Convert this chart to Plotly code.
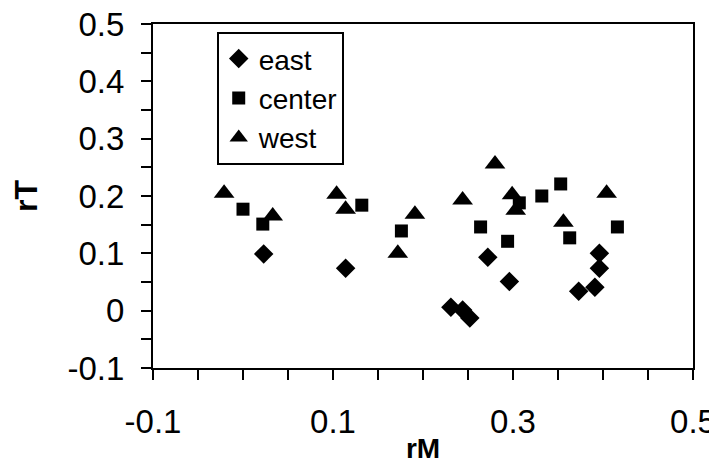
import plotly.graph_objects as go

# Data
east_rM = [0.023, 0.114, 0.272, 0.296, 0.231, 0.244, 0.252, 0.396, 0.396, 0.391, 0.373]
east_rT = [0.099, 0.074, 0.093, 0.051, 0.006, 0.001, -0.013, 0.100, 0.074, 0.041, 0.034]

center_rM = [0.000, 0.022, 0.132, 0.176, 0.264, 0.294, 0.307, 0.332, 0.353, 0.363, 0.416]
center_rT = [0.177, 0.151, 0.184, 0.139, 0.146, 0.121, 0.188, 0.200, 0.221, 0.127, 0.146]

west_rM = [-0.021, 0.033, 0.104, 0.114, 0.191, 0.172, 0.244, 0.280, 0.299, 0.303, 0.356, 0.404]
west_rT = [0.205, 0.165, 0.203, 0.177, 0.168, 0.100, 0.193, 0.256, 0.202, 0.175, 0.154, 0.205]

x_ticks = [-0.1, 0.1, 0.3, 0.5]
y_ticks = [-0.1, 0, 0.1, 0.2, 0.3, 0.4, 0.5]

FONT = "Liberation Sans, Arial, sans-serif"

fig = go.Figure()
fig.add_trace(go.Scatter(x=east_rM, y=east_rT, mode="markers", name="east",
                         marker=dict(symbol="diamond", size=15, color="black")))
fig.add_trace(go.Scatter(x=center_rM, y=center_rT, mode="markers", name="center",
                         marker=dict(symbol="square", size=13, color="black")))
fig.add_trace(go.Scatter(x=west_rM, y=west_rT, mode="markers", name="west",
                         marker=dict(symbol="triangle-up", size=18, color="black")))

axis_common = dict(
    showgrid=False, zeroline=False, showline=True, linecolor="black", linewidth=2,
    mirror=True, ticks="outside", ticklen=10, tickwidth=1.5, tickcolor="black",
    tickfont=dict(family=FONT, size=33, color="black"), automargin=False,
    ticklabeloverflow="allow",
)

fig.update_xaxes(**axis_common, range=[-0.1, 0.5], tickmode="array", tickvals=x_ticks,
                 ticktext=[str(v) for v in x_ticks], ticklabelstandoff=13,
                 minor=dict(dtick=0.05, tick0=-0.1, ticks="outside", ticklen=10,
                            tickwidth=1.5, tickcolor="black"),
                 title=dict(text="<b>rM</b>", font=dict(family=FONT, size=28, color="black"),
                            standoff=0))
fig.update_yaxes(**axis_common, range=[-0.1, 0.5], tickmode="array", tickvals=y_ticks,
                 ticktext=[str(v) for v in y_ticks], ticklabelstandoff=10,
                 minor=dict(dtick=0.05, tick0=-0.1, ticks="outside", ticklen=10,
                            tickwidth=1.5, tickcolor="black"),
                 title=dict(text="<b>rT</b>", font=dict(family=FONT, size=32,
                                                        color="black"), standoff=22))

# the page body adds an 8 px offset, so the margins compensate for it
fig.update_layout(
    width=717, height=471,
    margin=dict(l=145, r=32, t=16, b=111),
    paper_bgcolor="white", plot_bgcolor="white",
    showlegend=True,
    legend=dict(x=0.118, y=0.977, xanchor="left", yanchor="top",
                bordercolor="black", borderwidth=2, bgcolor="white",
                font=dict(family=FONT, size=28, color="black"),
                tracegroupgap=0),
)

fig.write_html("out.html")
